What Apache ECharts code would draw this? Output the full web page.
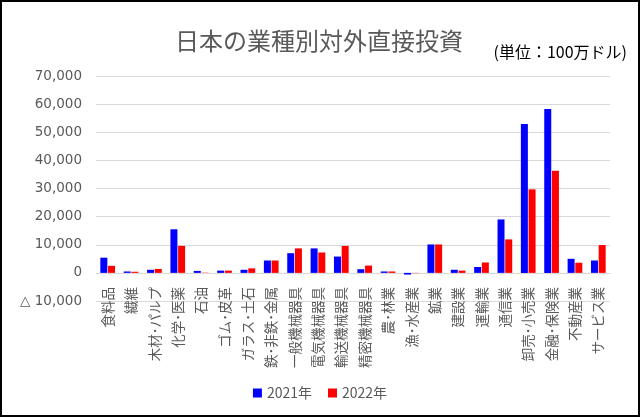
<!DOCTYPE html>
<html><head><meta charset="utf-8">
<script src="https://cdn.jsdelivr.net/npm/echarts@6/dist/echarts.min.js"></script>
<style>
html,body{margin:0;padding:0;background:#fff;}
#c{width:640px;height:417px;box-sizing:border-box;border:2px solid #000;}
</style></head>
<body><div id="c"></div>
<script>
const categories = ['食料品','繊維','木材･パルプ','化学･医薬','石油','ゴム･皮革','ガラス･土石','鉄･非鉄･金属','一般機械器具','電気機械器具','輸送機械器具','精密機械器具','農･林業','漁･水産業','鉱業','建設業','運輸業','通信業','卸売･小売業','金融･保険業','不動産業','サービス業'];
const v2021 = [5400,500,1100,15500,700,800,1100,4400,7000,8700,5800,1300,500,-600,10100,1100,2100,19000,52900,58300,5000,4400];
const v2022 = [2500,400,1400,9600,100,800,1600,4400,8700,7250,9600,2600,500,-100,10100,800,3700,11900,29700,36300,3600,9900];
const seriesNames = ['2021年','2022年'];
const yTicks = {min:-10000, max:70000, interval:10000};

const font = 'Noto Sans CJK JP';
const chart = echarts.init(document.getElementById('c'));
chart.setOption({
  animation:false,
  textStyle:{fontFamily:font},
  title:[
    {text:'日本の業種別対外直接投資', left:312, top:22, textAlign:'center',
     textStyle:{fontSize:24, fontWeight:'normal', color:'#595959', fontFamily:font}},
    {text:'(単位：100万ドル)', right:6, top:37,
     textStyle:{fontSize:16, fontWeight:'normal', color:'#000', fontFamily:font}}
  ],
  legend:{bottom:10, left:'center', itemWidth:9, itemHeight:9, itemGap:16,
    icon:'rect', textStyle:{fontSize:14, color:'#595959', fontFamily:font},
    data:seriesNames},
  grid:{left:94, right:28, top:74, bottom:114, containLabel:false},
  xAxis:{type:'category', data:categories,
    axisLine:{onZero:true, lineStyle:{color:'#d9d9d9'}},
    axisTick:{show:false},
    axisLabel:{rotate:90, interval:0, fontSize:13.5, color:'#595959', margin:-14, fontFamily:font}},
  yAxis:{type:'value', min:yTicks.min, max:yTicks.max, interval:yTicks.interval,
    axisLine:{show:false}, axisTick:{show:false},
    splitLine:{lineStyle:{color:'#d9d9d9'}},
    axisLabel:{fontSize:13.5, color:'#595959', margin:14, fontFamily:'DejaVu Sans',
      formatter:v=> v<0 ? '△ '+Math.abs(v).toLocaleString('en-US') : v.toLocaleString('en-US')}},
  series:[
    {name:seriesNames[0], type:'bar', data:v2021, barWidth:7, barGap:'10%', itemStyle:{color:'#0000ff'}},
    {name:seriesNames[1], type:'bar', data:v2022, barWidth:7, barGap:'10%', itemStyle:{color:'#ff0000'}}
  ]
});
</script></body></html>
